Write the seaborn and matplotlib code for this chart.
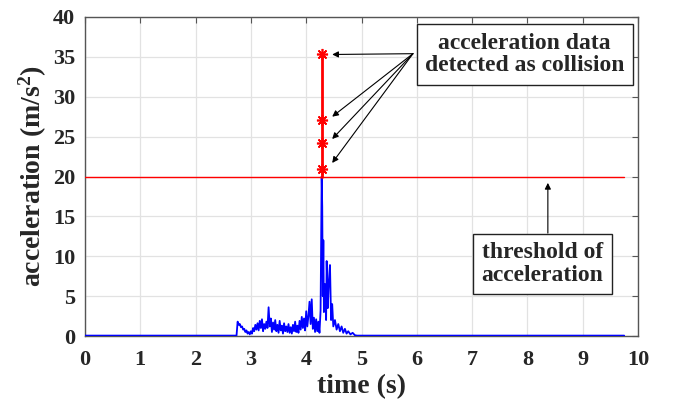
import numpy as np
import pandas as pd
import matplotlib
matplotlib.use("Agg")
import matplotlib.pyplot as plt
import seaborn as sns

# acceleration signal (time in s, acceleration in m/s^2)
time_s = [0.00, 2.74, 2.76, 2.78, 2.80, 2.82, 2.84, 2.86, 2.88, 2.90, 2.92, 2.94, 2.96, 2.98,
          3.00, 3.02, 3.04, 3.06, 3.08, 3.10, 3.12, 3.14, 3.16, 3.18, 3.20, 3.22, 3.24, 3.26,
          3.28, 3.30, 3.32, 3.34, 3.36, 3.38, 3.40, 3.42, 3.44, 3.46, 3.48, 3.50, 3.52, 3.54,
          3.56, 3.58, 3.60, 3.62, 3.64, 3.66, 3.68, 3.70, 3.72, 3.74, 3.76, 3.78, 3.80, 3.82,
          3.84, 3.86, 3.88, 3.90, 3.92, 3.94, 3.96, 3.98, 4.00, 4.02, 4.04, 4.06, 4.08, 4.10,
          4.12, 4.14, 4.16, 4.18, 4.20, 4.22, 4.24, 4.26, 4.28, 4.29, 4.30, 4.31, 4.32, 4.34,
          4.36, 4.37, 4.39, 4.41, 4.43, 4.45, 4.47, 4.49, 4.52, 4.55, 4.58, 4.61, 4.64, 4.67,
          4.70, 4.73, 4.76, 4.80, 4.84, 4.88, 4.92, 9.75]
accel = [0.05, 0.05, 1.8, 1.4, 1.5, 1.1, 1.2, 0.8, 0.9, 0.5, 0.7, 0.3, 0.5, 0.2,
         0.6, 0.3, 1.0, 0.6, 1.4, 0.8, 1.6, 0.7, 1.9, 1.0, 2.1, 0.6, 1.5, 0.9,
         1.8, 1.0, 3.6, 1.2, 2.2, 0.5, 1.7, 0.8, 2.0, 0.6, 1.4, 0.4, 1.9, 0.7,
         1.3, 0.3, 1.6, 0.6, 1.2, 0.5, 1.5, 0.4, 1.1, 0.3, 1.4, 0.6, 1.8, 0.5,
         1.3, 0.4, 1.9, 0.8, 2.4, 1.0, 2.2, 0.7, 3.1, 1.2, 2.5, 4.3, 1.5, 4.6,
         0.9, 2.3, 0.5, 2.1, 0.6, 1.8, 0.4, 3.2, 20.0, 16.2, 5.0, 12.0, 3.0, 6.5,
         2.0, 9.4, 3.5, 7.0, 8.9, 2.0, 4.0, 1.2, 2.0, 0.8, 1.5, 0.6, 1.2, 0.4,
         0.9, 0.3, 0.6, 0.2, 0.4, 0.1, 0.05, 0.05]

# samples above the threshold (detected as collision)
collision_t = [4.28, 4.28, 4.28, 4.28]
collision_a = [21.0, 24.2, 27.1, 35.3]

threshold = 20
t_end = 9.75

sns.set_theme(style="whitegrid")
plt.rcParams['font.family'] = ['Liberation Serif', 'DejaVu Serif']
plt.rcParams['font.weight'] = 'bold'
plt.rcParams['mathtext.fontset'] = 'custom'
plt.rcParams['mathtext.rm'] = 'Liberation Serif:bold'
plt.rcParams['mathtext.it'] = 'Liberation Serif:bold'
plt.rcParams['mathtext.bf'] = 'Liberation Serif:bold'

df = pd.DataFrame({'time': time_s, 'accel': accel})

fig = plt.figure(figsize=(6.81, 4.07), dpi=100)
ax = fig.add_axes([85 / 681, 71 / 407, 553 / 681, 319 / 407])
ax.set_facecolor('white')

# signal
sns.lineplot(data=df, x='time', y='accel', sort=False, estimator=None,
             color='#0000ff', linewidth=1.3, ax=ax, zorder=3)

# threshold line
ax.plot([0, t_end], [threshold, threshold], color='#ff0000', linewidth=1.0, zorder=3)

# collision samples
ax.plot([collision_t[0]] + collision_t, [threshold] + collision_a,
        color='#ff0000', linewidth=2.0, zorder=4)
ax.plot(collision_t, collision_a, linestyle='none', marker=(8, 2, 0),
        markersize=8, markeredgewidth=1.2, color='#ff0000', zorder=5)

ax.set_xlim(0, 10)
ax.set_ylim(0, 40)
ax.set_xticks(range(0, 11))
ax.set_yticks(range(0, 41, 5))
ax.grid(True, color='#e2e2e2', linewidth=0.9)
for s in ax.spines.values():
    s.set_color('#555555')
    s.set_linewidth(1.0)
ax.tick_params(direction='in', length=4, width=0.8, color='#555555',
               top=True, right=True, labelsize=16)
ax.tick_params(axis='x', pad=10)
ax.tick_params(axis='y', pad=7)
for lbl in ax.get_xticklabels() + ax.get_yticklabels():
    lbl.set_fontweight('bold')

ax.set_xlabel('time (s)', fontsize=20, fontweight='bold', labelpad=3)
ax.set_ylabel(r'acceleration (m/s$^{2}$)', fontsize=20, fontweight='bold', labelpad=3)

# annotations
box = dict(boxstyle='square,pad=0.35', facecolor='white', edgecolor='#222222', linewidth=1.0)
ax.text(7.95, 35.3, 'acceleration data\ndetected as collision', ha='center', va='center',
        fontsize=17, fontweight='bold', bbox=box, zorder=6, linespacing=1.1)
ax.text(8.27, 9.0, 'threshold of\nacceleration', ha='center', va='center',
        fontsize=17, fontweight='bold', bbox=box, zorder=6, linespacing=1.1)

arrow = dict(arrowstyle='-|>', color='black', lw=0.8, mutation_scale=9, shrinkA=0, shrinkB=0)
for yh in [35.3, 27.5, 24.7, 21.7]:
    ax.annotate('', xy=(4.47, yh), xytext=(5.93, 35.4), arrowprops=arrow, zorder=5)
ax.annotate('', xy=(8.37, 19.2), xytext=(8.37, 12.9), arrowprops=arrow, zorder=5)

fig.savefig('out.png', dpi=100)
